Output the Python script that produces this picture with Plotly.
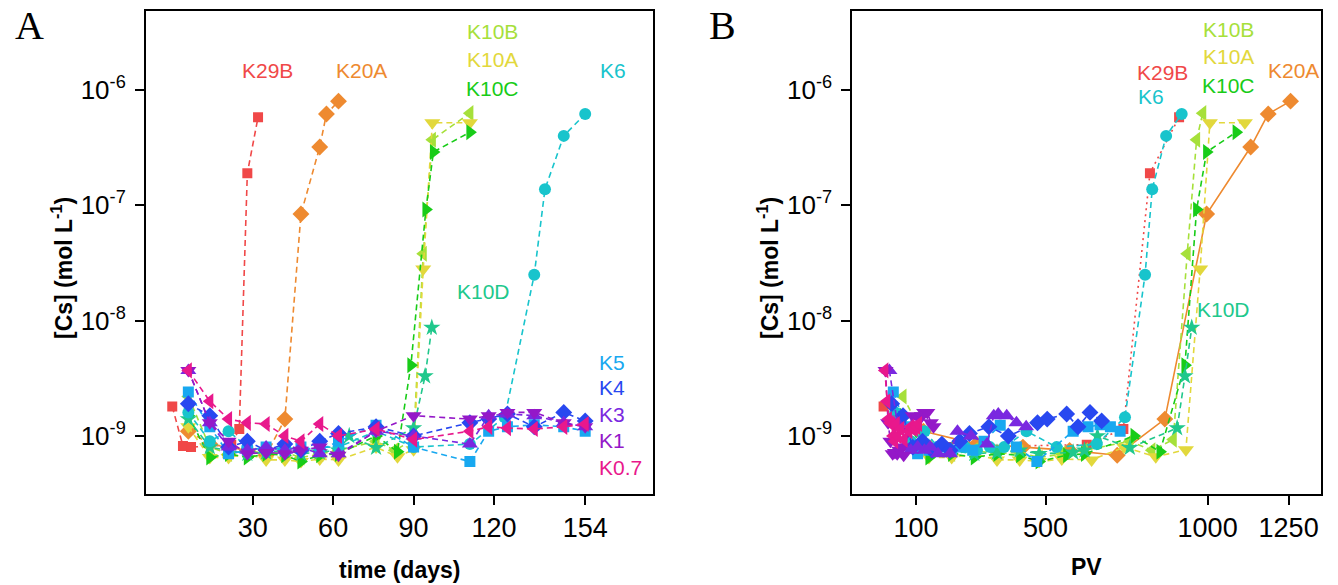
import plotly.graph_objects as go

# ---------------- data ----------------
series_names = ["K29B", "K20A", "K10B", "K10A", "K10C", "K10D", "K6", "K5", "K4", "K3", "K1", "K0.7"]

k29b_days = [0, 4, 7, 22, 25, 28, 32]
k29b_cs = [1.8e-9, 8.2e-10, 8.0e-10, 8.4e-10, 1.15e-9, 1.9e-7, 5.8e-7]
k29b_pv = [0, 114, 200, 627, 740, 822, 912]

k20a_days = [6, 14, 21, 28, 35, 42, 48, 55, 57.5, 62]
k20a_cs = [1.1e-9, 8.5e-10, 8e-10, 7.5e-10, 6.8e-10, 1.4e-9, 8.4e-8, 3.2e-7, 6.2e-7, 8.0e-7]
k20a_pv = [123, 287, 430, 574, 721, 868, 997, 1133, 1187, 1256]

k10b_days = [6, 14, 21, 28, 35, 42, 48, 55, 62, 76, 83, 90, 93.6, 97, 111]
k10b_cs = [2.2e-9, 8e-10, 7e-10, 7.5e-10, 7e-10, 7.2e-10, 6.5e-10, 7e-10, 7.5e-10, 9e-10, 7.5e-10, 9.3e-10, 3.8e-8, 3.7e-7, 6.3e-7]
k10b_pv = [60, 140, 210, 280, 350, 420, 480, 550, 620, 760, 828, 894, 937, 966, 985]

k10a_days = [6, 14, 21, 28, 35, 42, 48, 55, 62, 76, 84, 90, 93.6, 97, 111]
k10a_cs = [1.2e-9, 6.5e-10, 6.5e-10, 7e-10, 6.2e-10, 6.2e-10, 6e-10, 6.3e-10, 6.2e-10, 8e-10, 6.6e-10, 7.6e-10, 2.8e-8, 5.2e-7, 5.2e-7]
k10a_pv = [60, 140, 210, 280, 350, 420, 480, 550, 642, 742, 840, 933, 977, 1007, 1115]

k10c_days = [6, 14, 21, 28, 35, 42, 48, 55, 62, 76, 84, 89, 94.6, 97.4, 111]
k10c_cs = [1.5e-9, 6.5e-10, 7e-10, 6.5e-10, 7e-10, 6.8e-10, 6e-10, 6.8e-10, 7e-10, 1.0e-9, 7.3e-10, 4.1e-9, 9.2e-8, 2.9e-7, 4.3e-7]
k10c_pv = [60, 140, 210, 280, 350, 420, 480, 565, 620, 773, 853, 930, 966, 997, 1088]

k10d_days = [6, 14, 21, 28, 35, 42, 48, 55, 62, 66, 76, 90, 94.3, 96.8]
k10d_cs = [1.4e-9, 8e-10, 7.5e-10, 7e-10, 7.2e-10, 7.5e-10, 7e-10, 7.2e-10, 7.5e-10, 1.0e-9, 7.9e-10, 1.17e-9, 3.3e-9, 8.7e-9]
k10d_pv = [60, 140, 210, 280, 350, 420, 480, 585, 620, 660, 760, 906, 930, 951]

k6_days = [6, 14, 21, 28, 35, 42, 48, 55, 62, 76, 90, 111, 124, 135, 139, 146, 154]
k6_cs = [1.6e-9, 9e-10, 1.1e-9, 8e-10, 7.5e-10, 8e-10, 7.5e-10, 8e-10, 8e-10, 1.1e-9, 8e-10, 8.5e-10, 1.45e-9, 2.5e-8, 1.38e-7, 4.0e-7, 6.2e-7]
k6_pv = [36, 84, 126, 168, 210, 252, 288, 328, 372, 441, 534, 658, 745, 807, 829, 872, 920]

k5_days = [6, 14, 21, 28, 35, 42, 48, 55, 62, 76, 90, 111, 118, 125, 135, 146, 154]
k5_cs = [2.4e-9, 1.2e-9, 7e-10, 7.5e-10, 8e-10, 7.5e-10, 8e-10, 7.5e-10, 9e-10, 1.24e-9, 8e-10, 6e-10, 1.1e-9, 1.2e-9, 1.25e-9, 1.2e-9, 1.1e-9]
k5_pv = [30, 70, 105, 140, 175, 210, 240, 275, 310, 360, 410, 473, 585, 631, 668, 700, 730]

k4_days = [6, 14, 21, 28, 35, 42, 48, 55, 62, 76, 90, 111, 118, 125, 135, 146, 154]
k4_cs = [1.9e-9, 1.5e-9, 8e-10, 9e-10, 7.5e-10, 8.5e-10, 7.5e-10, 9e-10, 1.05e-9, 1.2e-9, 1.0e-9, 1.3e-9, 1.4e-9, 1.55e-9, 1.2e-9, 1.6e-9, 1.35e-9]
k4_pv = [25, 60, 90, 120, 150, 180, 205, 235, 265, 325, 385, 475, 505, 565, 600, 637, 673]

k3_days = [6, 14, 21, 28, 35, 42, 48, 55, 62, 76, 90, 111, 118, 125, 135, 146, 154]
k3_cs = [3.7e-9, 1.3e-9, 8e-10, 7.5e-10, 8e-10, 7.5e-10, 8e-10, 7e-10, 7e-10, 1.1e-9, 1.0e-9, 8.5e-10, 1.5e-9, 1.55e-9, 1.5e-9, 1.3e-9, 1.2e-9]
k3_pv = [18, 42, 63, 84, 105, 126, 144, 168, 205, 228, 270, 319, 340, 354, 380, 410, 440]

k1_days = [6, 14, 21, 28, 35, 42, 48, 55, 62, 76, 90, 111, 118, 125, 135, 146, 154]
k1_cs = [3.7e-9, 1.3e-9, 9e-10, 7e-10, 7.2e-10, 7e-10, 7.5e-10, 8e-10, 6.8e-10, 1.1e-9, 1.5e-9, 1.4e-9, 1.5e-9, 1.6e-9, 1.6e-9, 1.3e-9, 1.2e-9]
k1_pv = [6, 14, 21, 28, 35, 42, 48, 55, 62, 76, 90, 111, 118, 125, 135, 146, 154]

k07_days = [6, 14, 21, 28, 35, 42, 48, 55, 62, 76, 90, 111, 118, 125, 135, 146, 154]
k07_cs = [3.7e-9, 2.0e-9, 1.4e-9, 1.3e-9, 1.27e-9, 1.0e-9, 9e-10, 1.27e-9, 1.0e-9, 1.15e-9, 9.3e-10, 1.1e-9, 1.2e-9, 1.17e-9, 1.15e-9, 1.2e-9, 1.27e-9]
k07_pv = [4, 10, 15, 20, 25, 29, 34, 39, 43, 53, 63, 78, 83, 88, 95, 102, 108]

time_ticks = [30, 60, 90, 120, 154]
pv_ticks = [100, 500, 1000, 1250]
cs_ticks = [1e-9, 1e-8, 1e-7, 1e-6]
cs_tick_text = ["10<sup>-9</sup>", "10<sup>-8</sup>", "10<sup>-7</sup>", "10<sup>-6</sup>"]

# ---------------- styles ----------------
colors = {
    "K29B": "#F04848", "K20A": "#EE8A30", "K10B": "#A6E03A", "K10A": "#E2D83C",
    "K10C": "#18CC18", "K10D": "#20C88C", "K6": "#18C4CC", "K5": "#18A8F0",
    "K4": "#2848F0", "K3": "#7A28E0", "K1": "#9418C8", "K0.7": "#E8188C",
}
symbols = {
    "K29B": "square", "K20A": "diamond", "K10B": "triangle-left", "K10A": "triangle-down",
    "K10C": "triangle-right", "K10D": "star", "K6": "circle", "K5": "square",
    "K4": "diamond", "K3": "triangle-up", "K1": "triangle-down", "K0.7": "triangle-left",
}
sizes = {
    "K29B": 10, "K20A": 13, "K10B": 14, "K10A": 14, "K10C": 14, "K10D": 13, "K6": 12,
    "K5": 11, "K4": 13, "K3": 14, "K1": 14, "K0.7": 14,
}
dash_b = {"K29B": "2px,4px", "K20A": "solid"}

data = {
    "K29B": (k29b_days, k29b_pv, k29b_cs),
    "K20A": (k20a_days, k20a_pv, k20a_cs),
    "K10B": (k10b_days, k10b_pv, k10b_cs),
    "K10A": (k10a_days, k10a_pv, k10a_cs),
    "K10C": (k10c_days, k10c_pv, k10c_cs),
    "K10D": (k10d_days, k10d_pv, k10d_cs),
    "K6": (k6_days, k6_pv, k6_cs),
    "K5": (k5_days, k5_pv, k5_cs),
    "K4": (k4_days, k4_pv, k4_cs),
    "K3": (k3_days, k3_pv, k3_cs),
    "K1": (k1_days, k1_pv, k1_cs),
    "K0.7": (k07_days, k07_pv, k07_cs),
}

fig = go.Figure()
for name in series_names:
    d, pv, cs = data[name]
    c = colors[name]
    fig.add_trace(go.Scatter(
        x=d, y=cs, mode="lines+markers", name=name, xaxis="x", yaxis="y",
        line=dict(color=c, width=1.6, dash="6px,4px"),
        marker=dict(symbol=symbols[name], size=sizes[name], color=c, line=dict(width=0)),
        showlegend=False,
    ))
for name in series_names:
    d, pv, cs = data[name]
    c = colors[name]
    fig.add_trace(go.Scatter(
        x=pv, y=cs, mode="lines+markers", name=name, xaxis="x2", yaxis="y2",
        line=dict(color=c, width=1.6, dash=dash_b.get(name, "6px,4px")),
        marker=dict(symbol=symbols[name], size=sizes[name], color=c, line=dict(width=0)),
        showlegend=False,
    ))

FONT = "Liberation Sans, Arial, sans-serif"
W, H = 1338, 585
ydom = [1 - 494.3 / H, 1 - 11 / H]

common_x = dict(showline=True, linecolor="black", linewidth=1.5, mirror=True,
                ticks="outside", ticklen=9, tickwidth=1.5, tickcolor="black",
                showgrid=False, zeroline=False,
                tickfont=dict(family=FONT, size=27, color="black"))
common_y = dict(common_x, type="log", range=[-9.506, -5.315],
                tickvals=cs_ticks, ticktext=cs_tick_text, domain=ydom,
                ticklabelstandoff=4,
                tickfont=dict(family=FONT, size=26, color="black"))

fig.update_layout(
    width=W, height=H, margin=dict(l=0, r=0, t=0, b=0),
    paper_bgcolor="white", plot_bgcolor="white",
    xaxis=dict(common_x, domain=[145.7 / W, 653.3 / W], range=[-9.9, 179.4],
               tickvals=time_ticks, anchor="y"),
    yaxis=dict(common_y, anchor="x"),
    xaxis2=dict(common_x, domain=[852 / W, 1320.7 / W], range=[-97.5, 1349],
                tickvals=pv_ticks, anchor="y2"),
    yaxis2=dict(common_y, anchor="x2"),
)

def px(xp):
    return xp / W

def py(yp):
    return 1 - yp / H

ann = []
def add_text(text, x, y, color="black", size=21, bold=False, angle=0, family=FONT, xanchor="center"):
    if bold:
        text = "<b>" + text + "</b>"
    ann.append(dict(text=text, x=px(x), y=py(y), xref="paper", yref="paper",
                    showarrow=False, xanchor=xanchor, yanchor="middle", textangle=angle,
                    font=dict(family=family, size=size, color=color)))

# axis titles
add_text("time (days)", 399.5, 570, bold=True, size=23)
add_text("PV", 1086.7, 567, bold=True, size=23)
add_text("[Cs] (mol L<sup>-1</sup>)", 62, 268, bold=True, size=23, angle=-90)
add_text("[Cs] (mol L<sup>-1</sup>)", 768, 268, bold=True, size=23, angle=-90)

# panel letters
add_text("A", 29, 26, size=40, family="Liberation Serif, Times New Roman, serif")
add_text("B", 722, 26, size=40, family="Liberation Serif, Times New Roman, serif")

# series labels panel A
add_text("K29B", 267, 70, colors["K29B"])
add_text("K20A", 361, 70, colors["K20A"])
add_text("K10B", 492, 31, colors["K10B"])
add_text("K10A", 492, 60, colors["K10A"])
add_text("K10C", 492, 88, colors["K10C"])
add_text("K6", 613, 70, colors["K6"])
add_text("K10D", 483, 291, colors["K10D"])
add_text("K5", 597, 362, colors["K5"], xanchor="left")
add_text("K4", 597, 387, colors["K4"], xanchor="left")
add_text("K3", 597, 414, colors["K3"], xanchor="left")
add_text("K1", 597, 440, colors["K1"], xanchor="left")
add_text("K0.7", 597, 467, colors["K0.7"], xanchor="left")

# series labels panel B
add_text("K29B", 1162, 72, colors["K29B"])
add_text("K6", 1151, 97, colors["K6"])
add_text("K10B", 1228, 29, colors["K10B"])
add_text("K10A", 1228, 57, colors["K10A"])
add_text("K10C", 1228, 85, colors["K10C"])
add_text("K20A", 1293, 70, colors["K20A"])
add_text("K10D", 1223, 309, colors["K10D"])

fig.update_layout(annotations=ann)
fig.write_html("out.html")
